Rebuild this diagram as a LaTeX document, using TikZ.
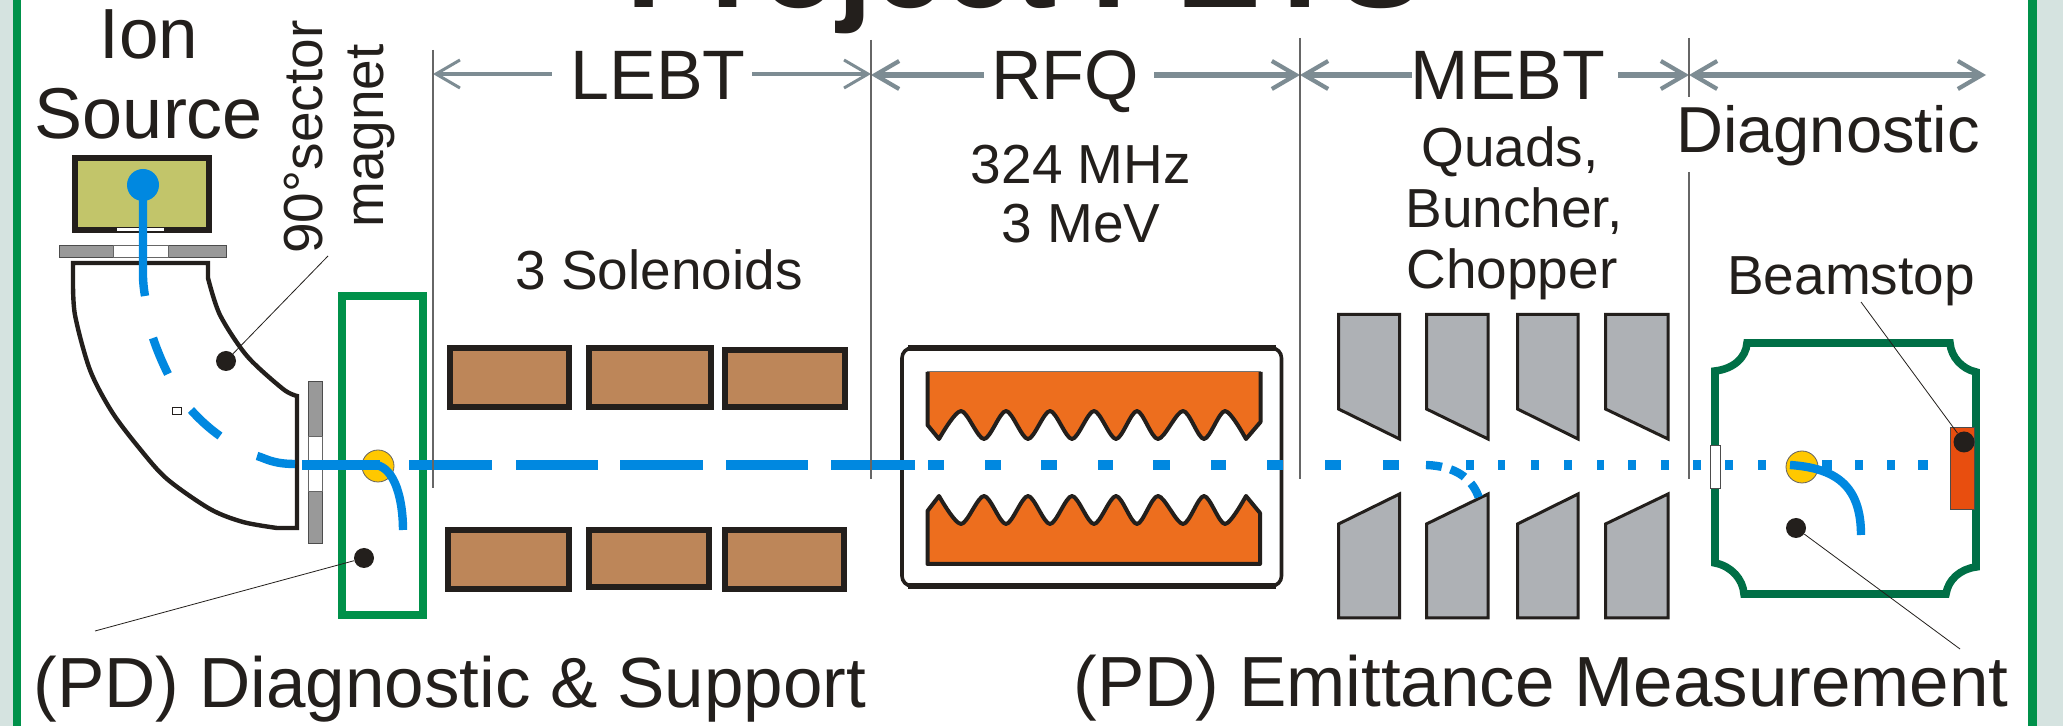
\documentclass[tikz,border=0pt]{standalone}
\usepackage{fontspec}
\setmainfont{Liberation Sans}
\usetikzlibrary{arrows.meta}
\definecolor{ink}{HTML}{231F1C}
\definecolor{pagegreen}{HTML}{00914A}
\definecolor{boxgreen}{HTML}{006F46}
\definecolor{sidec}{HTML}{D5E3E0}
\definecolor{beamc}{HTML}{0088E0}
\definecolor{dimc}{HTML}{7D8C93}
\definecolor{solc}{HTML}{BD8659}
\definecolor{rfqc}{HTML}{ED6E1E}
\definecolor{quadc}{HTML}{AEB1B5}
\definecolor{srcc}{HTML}{C2C56A}
\definecolor{goldc}{HTML}{FFC800}
\definecolor{stopc}{HTML}{E84E0F}
\definecolor{flangec}{HTML}{999999}
\tikzset{
  lbl/.style={inner sep=0pt,text=ink,anchor=base,font=\fontsize{#1}{#1}\selectfont},
  thinbarb/.tip={Straight Barb[length=12pt,width=14pt,line width=1.5pt]},
  fatbarb/.tip={Straight Barb[length=12pt,width=14pt,line width=2.1pt]},
  dimthin/.style={draw=dimc,line width=2pt},
  dimfat/.style={draw=dimc,line width=3pt},
  sepline/.style={draw=black!60,line width=0.55pt},
  leader/.style={draw=ink,line width=0.4pt},
  beamline/.style={draw=beamc,line width=5pt},
  beamcurve/.style={draw=beamc,line width=4.2pt},
  sol/.style={draw=ink,line width=2.8pt,fill=solc},
  quadbox/.style={draw=ink,line width=1.5pt,fill=quadc,line join=miter},
  blob/.style={circle,inner sep=0pt,minimum size=#1,fill=ink},
  goldblob/.style={circle,inner sep=0pt,minimum size=32*0.5pt,fill=goldc,draw=ink!70,line width=0.4pt},
  vane/.style={draw=ink,line width=2pt,fill=rfqc,line join=round},
}
\newcommand{\quadset}[2]{%
  \draw[quadbox] (#1,314.5) -- (#2,314.5) -- (#2,439) -- (#1,409) -- cycle;
  \draw[quadbox] (#1,618) -- (#2,618) -- (#2,494) -- (#1,524) -- cycle;
}
\begin{document}
\begin{tikzpicture}[x=0.5pt,y=-0.5pt]
\useasboundingbox (0,0) rectangle (2063,726);
\fill[white] (0,0) rectangle (2063,726);
\fill[sidec] (0,0) rectangle (13,726);
\fill[sidec] (2037,0) rectangle (2063,726);
\fill[pagegreen] (13,0) rectangle (21,726);
\fill[pagegreen] (2028,0) rectangle (2037,726);
% ---------- title ----------
\node[inner sep=0pt,anchor=base,text=ink,font=\fontsize{63.5}{63.5}\selectfont\bfseries] (title) at (1025,8) {Project PETS};
% ---------- section labels ----------
\node[lbl=35] (lebt) at (658,100) {LEBT};
\node[lbl=35] (rfqt) at (1065,100) {RFQ};
\node[lbl=35] (mebt) at (1508,100) {MEBT};
\node[lbl=32.5] (diag) at (1828,153) {Diagnostic};
% ---------- separators' end points ----------
\coordinate (s1t) at (433,50);  \coordinate (s1b) at (433,488);
\coordinate (s2t) at (871,40);  \coordinate (s2b) at (871,479);
\coordinate (s3t) at (1300,38); \coordinate (s3b) at (1300,479);
\coordinate (s4t) at (1689,38); \coordinate (s4m) at (1689,97);
\coordinate (s4n) at (1689,172);\coordinate (s4b) at (1689,479);
\coordinate (lebtl) at (552,74);  \coordinate (lebtr) at (752,74);
\coordinate (s1a) at (433,74);    \coordinate (s2a) at (871,74);
\coordinate (s2c) at (871,75);    \coordinate (s3c) at (1300,75);
\coordinate (rfql) at (984,75);   \coordinate (rfqr) at (1154,75);
\coordinate (mebl) at (1412,75);  \coordinate (mebr) at (1618,75);
\coordinate (s4c) at (1689,75);   \coordinate (diagend) at (1986,75);
\draw[dimthin,{thinbarb}-] (s1a) -- (lebtl);
\draw[dimthin,-{thinbarb}] (lebtr) -- (s2a);
\draw[dimfat,{fatbarb}-] (s2c) -- (rfql);
\draw[dimfat,-{fatbarb}] (rfqr) -- (s3c);
\draw[dimfat,{fatbarb}-] (s3c) -- (mebl);
\draw[dimfat,-{fatbarb}] (mebr) -- (s4c);
\draw[dimfat,{fatbarb}-{fatbarb}] (s4c) -- (diagend);
% ---------- other labels ----------
\node[lbl=35.5] (ion) at (149,59) {Ion};
\node[lbl=36] (source) at (149,139) {Source};
\node[lbl=27.5,rotate=90,anchor=base west] (sector) at (322,254) {90°sector};
\node[lbl=27.5,rotate=90,anchor=base west] (magnet) at (383,228) {magnet};
\node[lbl=27.5] (solt) at (659,290) {3 Solenoids};
\node[lbl=27.5] (rfqa) at (1081,184) {324 MHz};
\node[lbl=27.5] (rfqb) at (1081,243) {3 MeV};
\node[lbl=27.5] (qa) at (1510,167) {Quads,};
\node[lbl=27.5] (qb) at (1514,228) {Buncher,};
\node[lbl=27.5] (qc) at (1512,289) {Chopper};
\node[lbl=27.5] (stop) at (1851,295) {Beamstop};
\node[lbl=35.5] (pda) at (450,708) {(PD) Diagnostic \& Support};
\node[lbl=35.5] (pdb) at (1541,707) {(PD) Emittance Measurement};
% ---------- ion source ----------
\draw[ink,line width=3pt,fill=srcc] (75,158.5) rectangle (209,230.5);
\fill[white] (117,228) rectangle (164,231);
\draw[black!70,line width=0.5pt,fill=flangec] (59,245.5) rectangle (226,257.5);
\fill[white,draw=black!60,line width=0.4pt] (113,245.5) rectangle (168,257.5);
% ---------- sector magnet ----------
\draw[ink,line width=2.2pt,line join=miter] (73,263) -- (208,263) -- plot[smooth] coordinates {(208,278) (220,315) (247,356) (283,389) (297,396)} -- (297,528) -- plot[smooth] coordinates {(277,528) (243,522) (210,509) (167,479) (140,449) (112,412) (90,370) (75,315) (73,278)} -- cycle;
\fill[white,draw=ink,line width=0.4pt] (172,407) rectangle (181,414);
\node[blob=20*0.5pt] (dot1) at (226,361) {};
\coordinate (lead1) at (328,256);
\draw[leader] (dot1) -- (lead1);
% ---------- slit ----------
\draw[black!70,line width=0.5pt,fill=flangec] (308.5,382) rectangle (322.5,544);
\fill[white,draw=black!60,line width=0.4pt] (308.5,436) rectangle (322.5,491);
% ---------- diagnostic box ----------
\draw[pagegreen,line width=4pt] (342,296.5) rectangle (423,615);
\node[goldblob] (gold1) at (378,466) {};
\node[blob=20*0.5pt] (dot2) at (364,558) {};
\coordinate (lead2) at (95,631);
\draw[leader] (dot2) -- (lead2);
% ---------- solenoids ----------
\draw[sol] (450,348) rectangle (569,407);
\draw[sol] (589,348) rectangle (711,407);
\draw[sol] (725,350) rectangle (845,407);
\draw[sol] (448,530) rectangle (569,589);
\draw[sol] (589,530) rectangle (709,587);
\draw[sol] (725,530) rectangle (844,589);
% ---------- RFQ ----------
\draw[ink,line width=1.8pt,rounded corners=5pt] (902,348) rectangle (1281.5,586);
\draw[ink,line width=3pt] (908,348) -- (1276,348);
\draw[ink,line width=3pt] (908,586) -- (1276,586);
\draw[vane] (927.5,372) -- (927.5,425) -- plot[smooth] coordinates {(939,439) (961,411) (984,439) (1006,411) (1028,439) (1050,411) (1072,439) (1094,411) (1116,439) (1137,411) (1158,439) (1183,411) (1204,439) (1225,411) (1246,439)} -- (1260.5,422) -- (1260.5,372);
\draw[black!55,line width=0.6pt] (927,371.5) -- (1261,371.5);
\draw[vane] (927.5,511) -- plot[smooth] coordinates {(939,496) (961,524) (984,496) (1006,524) (1028,496) (1050,524) (1072,496) (1094,524) (1116,496) (1137,524) (1158,496) (1183,524) (1204,496) (1225,524) (1246,496)} -- (1260,513) -- (1260,564) -- (927.5,564) -- cycle;
% ---------- quads ----------
\quadset{1338.5}{1399.5}
\quadset{1426.5}{1488}
\quadset{1517.5}{1578}
\quadset{1605.5}{1668}
% ---------- beam chamber ----------
\draw[boxgreen,line width=3.8pt,line join=miter] (1747,343) -- (1950,343) .. controls (1951,357) and (1962,369) .. (1976,372) -- (1976,567) .. controls (1960,569) and (1948,580) .. (1946,594) -- (1744,594) .. controls (1743,579) and (1731,566) .. (1715,563) -- (1715,371) .. controls (1733,369) and (1746,358) .. (1747,343) -- cycle;
\draw[black!70,line width=0.4pt,fill=stopc] (1950,427) rectangle (1974,509);
\node[blob=21*0.5pt] (dot3) at (1964,442) {};
\coordinate (lead3) at (1861,302);
\draw[leader] (dot3) -- (lead3);
\draw[black!70,line width=0.5pt,fill=white] (1710.5,446) rectangle (1720.5,489);
\node[goldblob] (gold2) at (1802,467) {};
\node[blob=20*0.5pt] (dot4) at (1796,528) {};
\coordinate (lead4) at (1960,649);
\draw[leader] (dot4) -- (lead4);
% ---------- beam ----------
\node[circle,inner sep=0pt,minimum size=32*0.5pt,fill=beamc] (srcblob) at (143,185) {};
\draw[beamcurve] (srcblob.center) -- (143,275) .. controls (143,283) and (144,290) .. (145,296);
\draw[beamcurve] (153,338) .. controls (157,350) and (162,362) .. (168,374);
\draw[beamcurve] (191,410) .. controls (200,420) and (210,429) .. (220,436);
\draw[beamcurve] (257,456) .. controls (265,458) and (272,464) .. (295,464);
\draw[beamline] (302,465) -- (380,465);
\draw[beamcurve] (376,465) .. controls (395,468) and (403,500) .. (403,530);
\foreach \a/\b in {409/492,516/598,620/703,726/808,831/915,928/944,985/1001,1041/1057,1098/1113,1153/1170,1211/1226,1267/1283,1325/1341,1383/1399,1466/1474,1498/1505,1531/1539,1564/1572,1597/1604,1628/1636,1661/1669,1693/1701,1725/1733,1758/1766,1822/1832,1855/1863,1887/1895,1918/1928}
  \draw[beamline] (\a,465) -- (\b,465);
\draw[beamcurve,dash pattern=on 8pt off 4.5pt] (1426,465) .. controls (1455,466) and (1472,478) .. (1479,498);
\draw[beamcurve] (1790,465) .. controls (1835,468) and (1861,485) .. (1861,535);
% ---------- separators ----------
\draw[sepline] (s1t) -- (s1b);
\draw[sepline] (s2t) -- (s2b);
\draw[sepline] (s3t) -- (s3b);
\draw[sepline] (s4t) -- (s4m);
\draw[sepline] (s4n) -- (s4b);
\end{tikzpicture}
\end{document}
